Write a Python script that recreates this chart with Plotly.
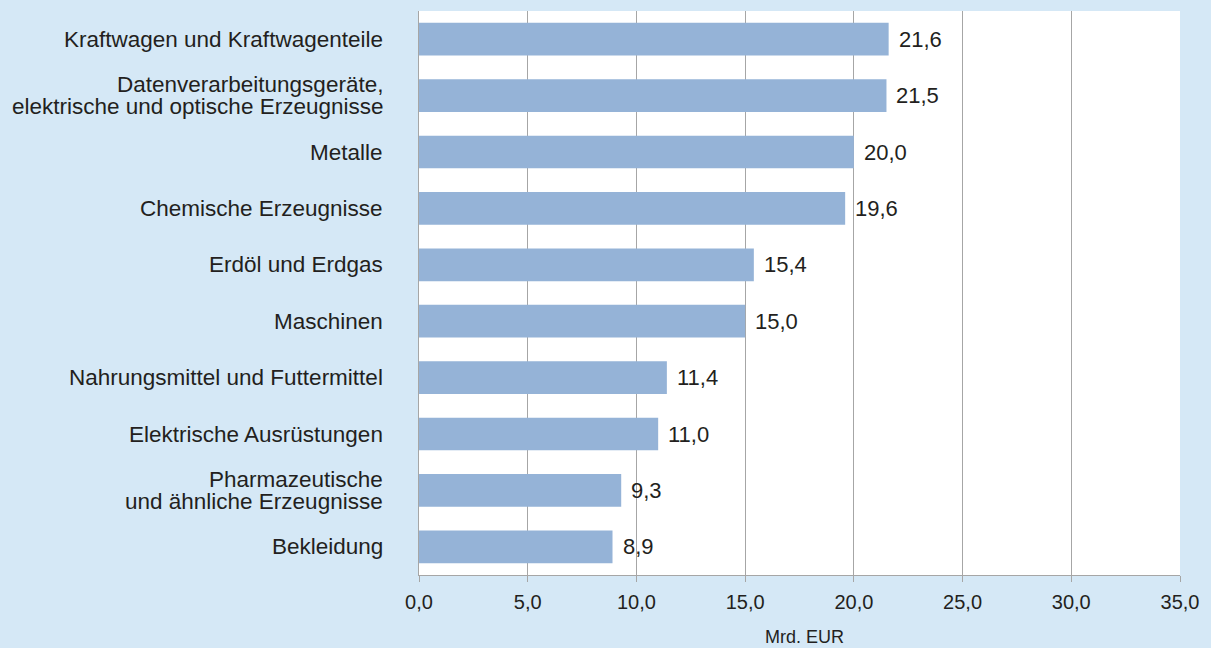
import plotly.graph_objects as go

categories = [
    "Kraftwagen und Kraftwagenteile",
    "Datenverarbeitungsgeräte,<br>elektrische und optische Erzeugnisse",
    "Metalle",
    "Chemische Erzeugnisse",
    "Erdöl und Erdgas",
    "Maschinen",
    "Nahrungsmittel und Futtermittel",
    "Elektrische Ausrüstungen",
    "Pharmazeutische<br>und ähnliche Erzeugnisse",
    "Bekleidung",
]
values = [21.6, 21.5, 20.0, 19.6, 15.4, 15.0, 11.4, 11.0, 9.3, 8.9]
x_ticks = [0, 5, 10, 15, 20, 25, 30, 35]
x_title = "Mrd. EUR"

BG = "#d5e8f6"
BAR = "#95b3d7"
TXT = "#231f20"
GRID = "#a6a6a6"
FONT = "Liberation Sans, Arial, sans-serif"
LINE_GAP = 22

fig = go.Figure()
fig.add_trace(go.Bar(
    y=categories, x=values, orientation="h",
    marker=dict(color=BAR, line=dict(width=0)),
    width=0.58, hoverinfo="skip",
))

# value labels
for c, v in zip(categories, values):
    fig.add_annotation(
        x=v, y=c, text=f"{v:.1f}".replace(".", ","),
        xanchor="left", yanchor="middle", xshift=8, showarrow=False,
        font=dict(family=FONT, size=22, color=TXT),
    )

# category labels (tight line spacing for two-line labels)
for c in categories:
    lines = c.split("<br>")
    n = len(lines)
    for k, line in enumerate(lines):
        fig.add_annotation(
            xref="paper", x=0, y=c, text=line,
            xanchor="right", yanchor="middle", xshift=-35,
            yshift=((n - 1) / 2 - k) * LINE_GAP,
            showarrow=False, align="right", borderpad=0,
            font=dict(family=FONT, size=22.5, color=TXT),
        )

# axis title
fig.add_annotation(
    xref="paper", yref="paper", x=0.507, y=0, text=x_title,
    xanchor="center", yanchor="top", yshift=-50, showarrow=False,
    font=dict(family=FONT, size=18, color=TXT),
)

fig.update_layout(
    width=1211, height=648,
    paper_bgcolor=BG, plot_bgcolor="white",
    margin=dict(l=419, r=31, t=11, b=73),
    showlegend=False,
    font=dict(family=FONT, size=20, color=TXT),
    separators=",.",
)
fig.update_xaxes(
    range=[0, 35], tickvals=x_ticks, tickformat=".1f",
    showgrid=True, gridcolor=GRID, gridwidth=1,
    showline=True, linecolor=GRID, linewidth=1,
    ticks="outside", ticklen=6, tickcolor=GRID,
    ticklabelstandoff=3, automargin=False,
    tickfont=dict(family=FONT, size=20, color=TXT),
    zeroline=False, fixedrange=True,
)
fig.update_yaxes(
    categoryorder="array", categoryarray=categories, autorange="reversed",
    showline=True, linecolor=GRID, linewidth=1,
    showgrid=False, ticks="", showticklabels=False, automargin=False,
    fixedrange=True,
)
fig.write_html(
    "out.html",
    config={"displayModeBar": False},
    post_script="document.body.style.margin='0px';",
)
